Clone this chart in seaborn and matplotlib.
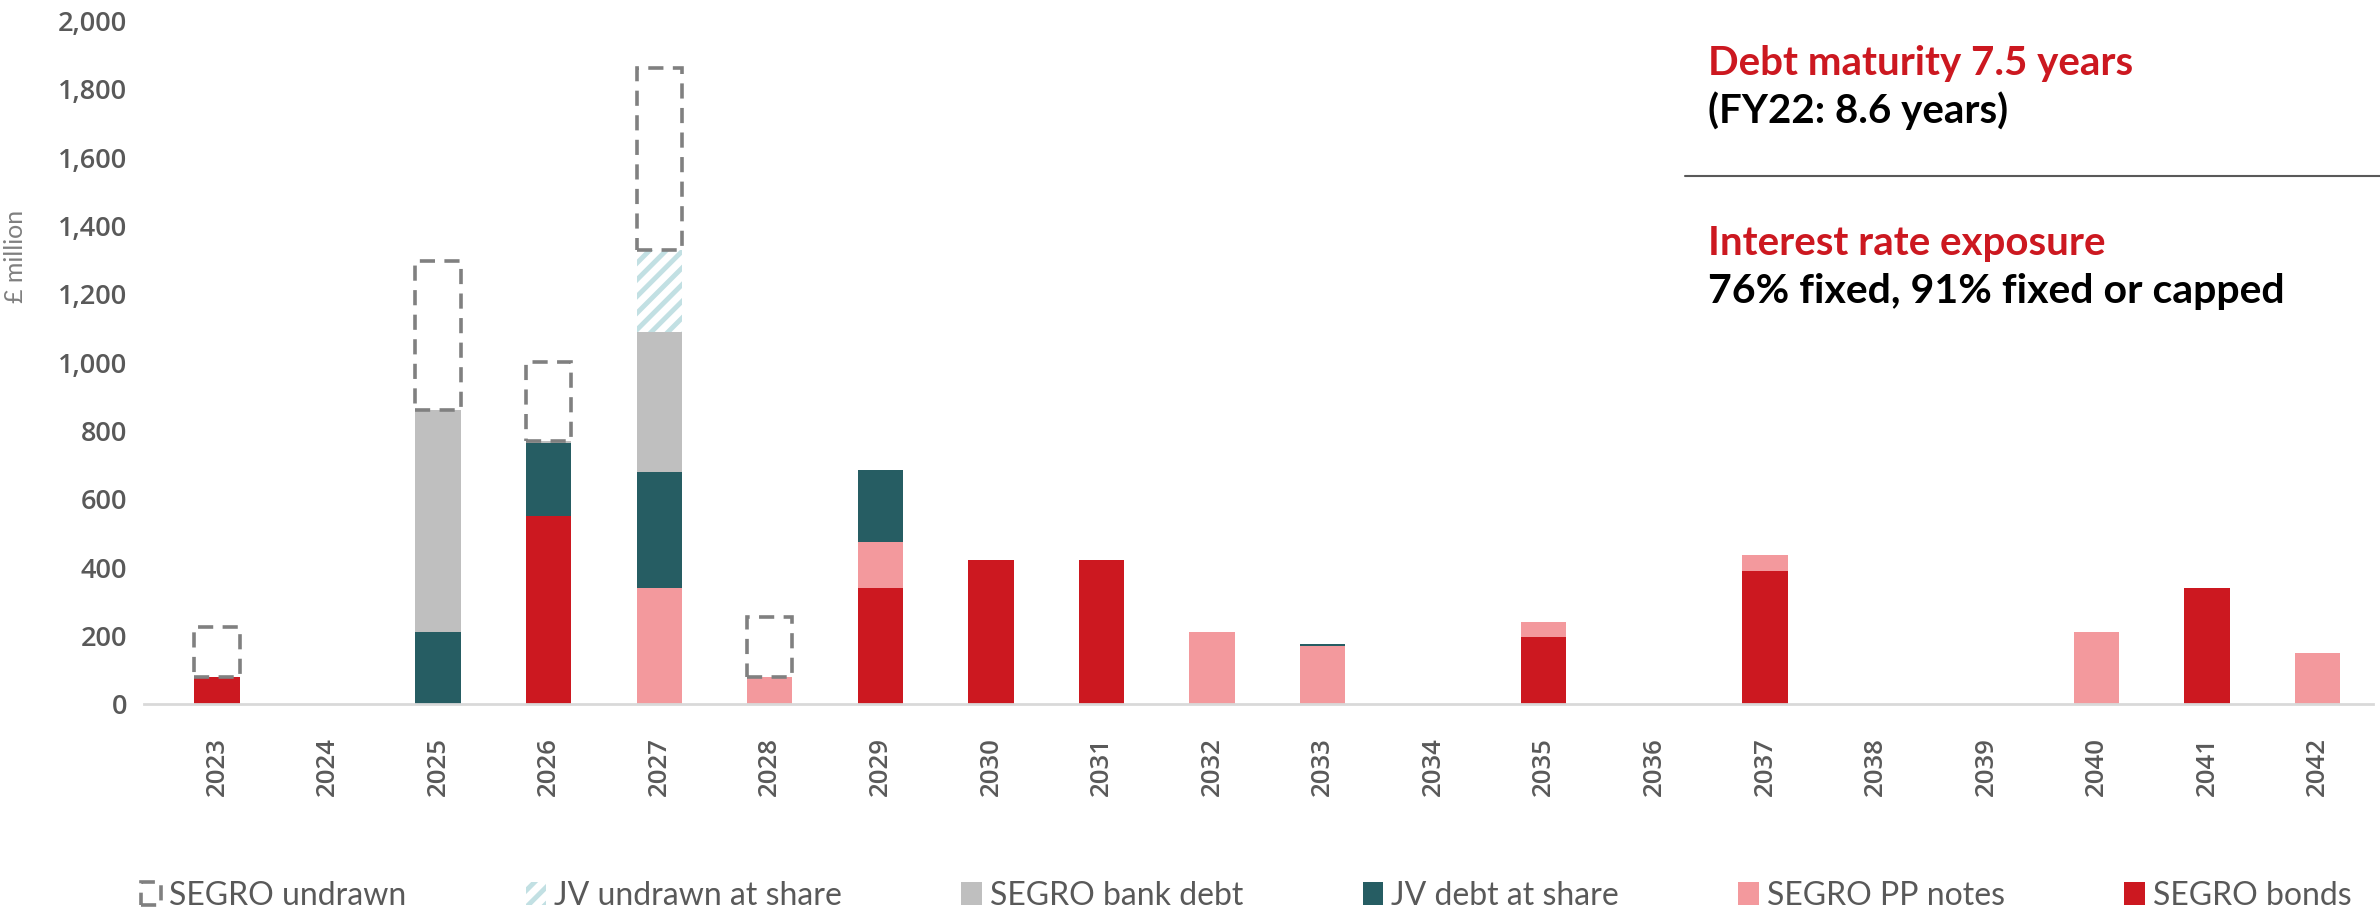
import matplotlib
matplotlib.use("Agg")
import matplotlib.pyplot as plt
import seaborn as sns
import pandas as pd
import numpy as np

sns.set_style("white")
plt.rcParams['font.family'] = ['Open Sans', 'DejaVu Sans']
plt.rcParams['hatch.linewidth'] = 3.5

# Data (GBP million)
years = ['2023', '2024', '2025', '2026', '2027', '2028', '2029', '2030', '2031', '2032',
         '2033', '2034', '2035', '2036', '2037', '2038', '2039', '2040', '2041', '2042']
segro_bonds = [80, 0, 0, 550, 0, 0, 340, 420, 420, 0, 0, 0, 195, 0, 390, 0, 0, 0, 340, 0]
segro_pp_notes = [0, 0, 0, 0, 340, 80, 135, 0, 0, 210, 170, 0, 45, 0, 45, 0, 0, 210, 0, 150]
jv_debt = [0, 0, 210, 215, 340, 0, 210, 0, 0, 0, 5, 0, 0, 0, 0, 0, 0, 0, 0, 0]
segro_bank_debt = [0, 0, 650, 5, 410, 0, 0, 0, 0, 0, 0, 0, 0, 0, 0, 0, 0, 0, 0, 0]
jv_undrawn = [0, 0, 0, 0, 240, 0, 0, 0, 0, 0, 0, 0, 0, 0, 0, 0, 0, 0, 0, 0]
segro_undrawn = [145, 0, 435, 230, 530, 175, 0, 0, 0, 0, 0, 0, 0, 0, 0, 0, 0, 0, 0, 0]

layers = [
    ('SEGRO bonds', segro_bonds, '#CC1820', dict(linewidth=0)),
    ('SEGRO PP notes', segro_pp_notes, '#F3999D', dict(linewidth=0)),
    ('JV debt at share', jv_debt, '#265D63', dict(linewidth=0)),
    ('SEGRO bank debt', segro_bank_debt, '#BFBFBF', dict(linewidth=0)),
    ('JV undrawn at share', jv_undrawn, '#C2E0E3',
     dict(facecolor='white', edgecolor='#C2E0E3', hatch='//', linewidth=0)),
    ('SEGRO undrawn', segro_undrawn, '#808080',
     dict(facecolor='none', edgecolor='#808080', linewidth=2.6, linestyle=(0, (4.2, 2.6)))),
]

fig = plt.figure(figsize=(23.8, 9.1), dpi=100)
ax = fig.add_axes([144 / 2380, 0.2264, 2229 / 2380, 0.751])

# stack the layers bar by bar
bottom = np.zeros(len(years))
handles = {}
for name, vals, col, style in layers:
    vals = np.array(vals, dtype=float)
    mask = vals > 0
    df = pd.DataFrame({'year': np.array(years)[mask], 'value': vals[mask]})
    sns.barplot(data=df, x='year', y='value', order=years, width=0.41, color=col,
                saturation=1, bottom=bottom[mask], ax=ax, **style)
    patch_kw = dict(style)
    patch_kw.setdefault('facecolor', col)
    handles[name] = matplotlib.patches.Patch(**patch_kw)
    bottom = bottom + vals

ax.set_xlim(-0.66, len(years) - 0.5)
ax.set_ylim(0, 2000)
ax.set_yticks(range(0, 2001, 200))
ax.set_yticklabels([f'{v:,}' for v in range(0, 2001, 200)])
ax.set_xlabel('')
ax.set_ylabel('£ million', fontsize=18, color='#7F7F7F', family=['Lato', 'DejaVu Sans'])
ax.yaxis.set_label_coords(-0.0525, 0.655)

for s in ['top', 'right', 'left']:
    ax.spines[s].set_visible(False)
ax.spines['bottom'].set_color('#D9D9D9')
ax.spines['bottom'].set_linewidth(2)

ax.tick_params(axis='y', length=0, pad=12, labelsize=19.5, labelcolor='#595959')
ax.tick_params(axis='x', length=0, pad=24, labelsize=18.5, labelcolor='#595959',
               labelrotation=90)
for t in ax.get_xticklabels() + ax.get_yticklabels():
    t.set_fontweight('semibold')

# Right hand annotations
txt_font = ['Lato', 'DejaVu Sans']
fig.text(1708 / 2380, 1 - 64 / 910, 'Debt maturity 7.5 years', color='#CC1820',
         fontsize=29, fontweight='bold', va='center', ha='left', family=txt_font)
fig.text(1708 / 2380, 1 - 111 / 910, '(FY22: 8.6 years)', color='black',
         fontsize=29, fontweight='bold', va='center', ha='left', family=txt_font)
fig.add_artist(matplotlib.lines.Line2D([1685 / 2380, 1.0], [1 - 176 / 910, 1 - 176 / 910],
                                       color='#595959', linewidth=1.5))
fig.text(1708 / 2380, 1 - 243 / 910, 'Interest rate exposure', color='#CC1820',
         fontsize=29, fontweight='bold', va='center', ha='left', family=txt_font)
fig.text(1708 / 2380, 1 - 291 / 910, '76% fixed, 91% fixed or capped', color='black',
         fontsize=29.5, fontweight='bold', va='center', ha='left', family=txt_font)

legend_order = ['SEGRO undrawn', 'JV undrawn at share', 'SEGRO bank debt',
                'JV debt at share', 'SEGRO PP notes', 'SEGRO bonds']
leg = fig.legend([handles[n] for n in legend_order], legend_order, loc='center',
                 bbox_to_anchor=(0.047, 0.0, 0.953, 0.031), mode='expand', ncol=6,
                 frameon=False, handlelength=0.65, handleheight=0.75, handletextpad=0.25,
                 prop={'family': txt_font, 'size': 23})
for t in leg.get_texts():
    t.set_color('#595959')

fig.savefig('out.png', dpi=100)
